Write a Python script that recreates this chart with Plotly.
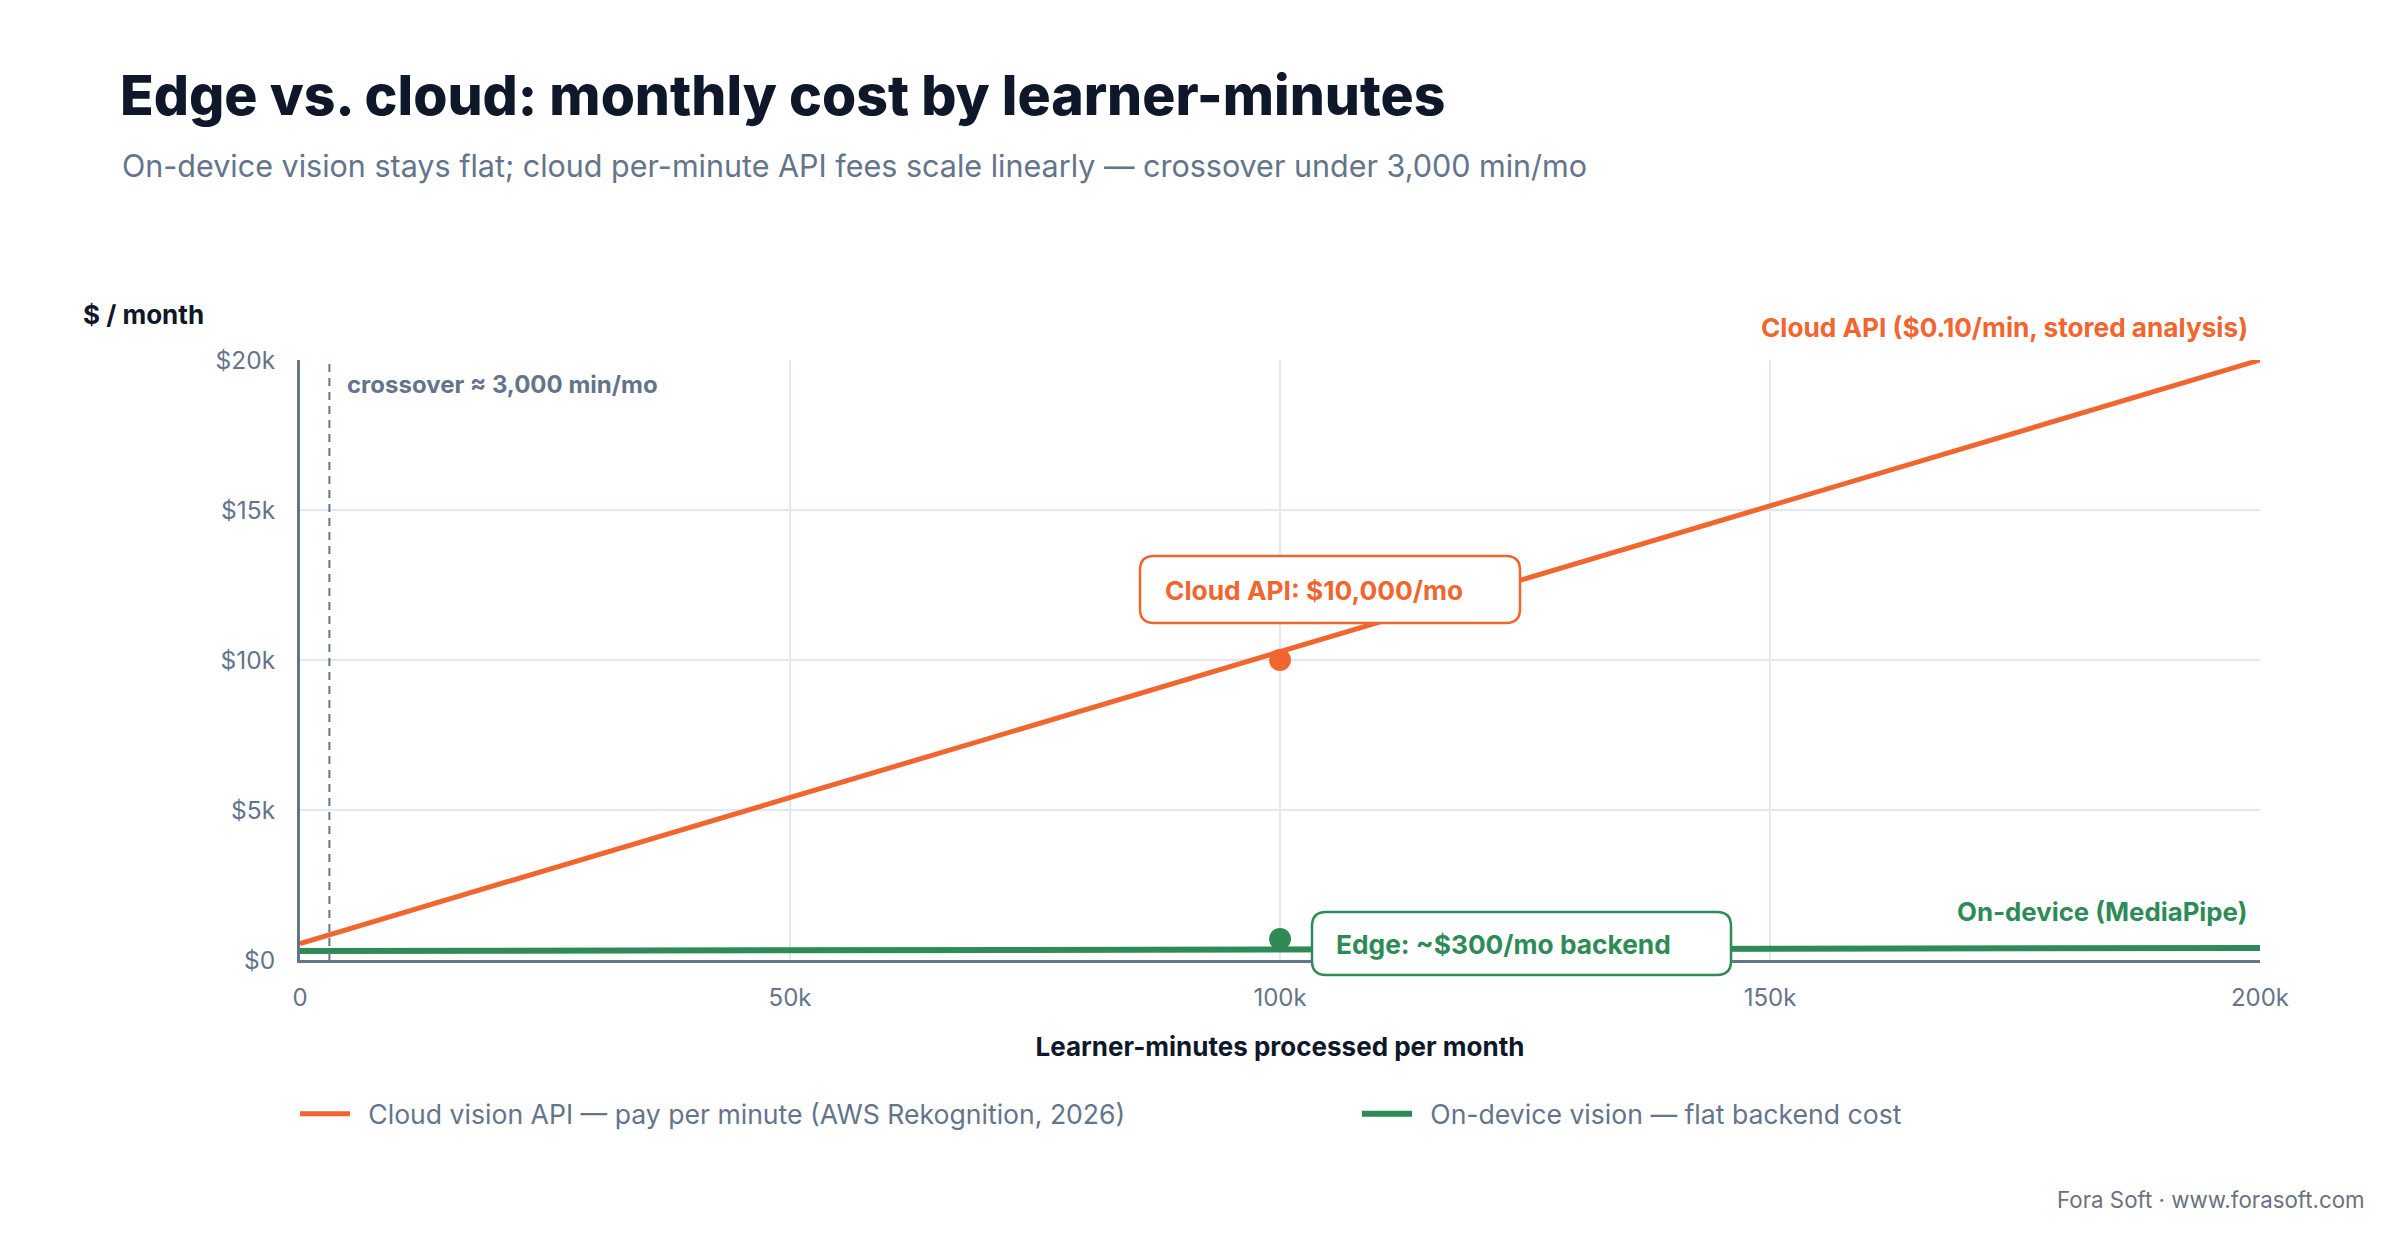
import plotly.graph_objects as go

# ---------------- data ----------------
minutes = [0, 100000, 200000]
cloud_cost = [550, 10280, 20000]
edge_cost = [300, 360, 400]

marker_x = [100000]
cloud_marker = [10000]
edge_marker = [700]

crossover_x = 3000

x_ticks = [0, 50000, 100000, 150000, 200000]
x_tick_labels = ["0", "50k", "100k", "150k", "200k"]
y_ticks = [0, 5000, 10000, 15000, 20000]
y_tick_labels = ["$0", "$5k", "$10k", "$15k", "$20k"]

ORANGE = "#F1652F"
GREEN = "#2E8B57"
SLATE = "#64748B"
DARK = "#0F172A"
GRID = "#E2E8F0"
FONT = "Inter"

# plot area in pixels
L, R, T, B = 300, 2260, 360, 960
W, H = 2400, 1240


def px(x):
    return (x - L) / (R - L)


def py(y):
    return (B - y) / (B - T)


def rounded_box(x0, y0, x1, y1, r=14):
    # pixel coords -> paper path with rounded corners
    X0, X1 = px(x0), px(x1)
    Y0, Y1 = py(y0), py(y1)  # Y0 is top
    rx = r / (R - L)
    ry = r / (B - T)
    return (f"M {X0+rx},{Y0} L {X1-rx},{Y0} Q {X1},{Y0} {X1},{Y0-ry} "
            f"L {X1},{Y1+ry} Q {X1},{Y1} {X1-rx},{Y1} "
            f"L {X0+rx},{Y1} Q {X0},{Y1} {X0},{Y1+ry} "
            f"L {X0},{Y0-ry} Q {X0},{Y0} {X0+rx},{Y0} Z")


fig = go.Figure()

fig.add_trace(go.Scatter(
    x=minutes, y=cloud_cost, mode="lines",
    line=dict(color=ORANGE, width=5),
    name="\u2002Cloud vision API — pay per minute (AWS Rekognition, 2026)",
    hoverinfo="skip",
))
fig.add_trace(go.Scatter(
    x=minutes, y=edge_cost, mode="lines",
    line=dict(color=GREEN, width=6),
    name="\u2002On-device vision — flat backend cost",
    hoverinfo="skip",
))
fig.add_trace(go.Scatter(
    x=marker_x, y=cloud_marker, mode="markers",
    marker=dict(color=ORANGE, size=22), showlegend=False, hoverinfo="skip",
))
fig.add_trace(go.Scatter(
    x=marker_x, y=edge_marker, mode="markers",
    marker=dict(color=GREEN, size=22), showlegend=False, hoverinfo="skip",
))

shapes = [
    dict(type="line", xref="x", yref="paper", x0=crossover_x, x1=crossover_x,
         y0=0, y1=1, line=dict(color=SLATE, width=2, dash="8px,6px"), layer="above"),
    dict(type="path", xref="paper", yref="paper", path=rounded_box(1140, 556, 1520, 623),
         fillcolor="white", line=dict(color=ORANGE, width=2.5), layer="above"),
    dict(type="path", xref="paper", yref="paper", path=rounded_box(1312, 912, 1731, 975),
         fillcolor="white", line=dict(color=GREEN, width=2.5), layer="above"),
]

annotations = [
    dict(text="On-device vision stays flat; cloud per-minute API fees scale linearly — crossover under 3,000 min/mo",
         xref="paper", yref="paper", x=px(120), y=py(165), xanchor="left", yanchor="middle",
         showarrow=False, font=dict(family=FONT, size=30.5, color=SLATE)),
    dict(text="<b>$ / month</b>", xref="paper", yref="paper", x=px(81), y=py(314),
         xanchor="left", yanchor="middle", showarrow=False,
         font=dict(family=FONT, size=26, color=DARK)),
    dict(text="<b>crossover ≈ 3,000 min/mo</b>", xref="paper", yref="paper", x=px(345), y=py(384),
         xanchor="left", yanchor="middle", showarrow=False,
         font=dict(family=FONT, size=24, color=SLATE)),
    dict(text="<b>Cloud API ($0.10/min, stored analysis)</b>", xref="paper", yref="paper",
         x=px(2250), y=py(327), xanchor="right", yanchor="middle", showarrow=False,
         font=dict(family=FONT, size=26.2, color=ORANGE)),
    dict(text="<b>On-device (MediaPipe)</b>", xref="paper", yref="paper",
         x=px(2249), y=py(911), xanchor="right", yanchor="middle", showarrow=False,
         font=dict(family=FONT, size=25.8, color=GREEN)),
    dict(text="<b>Cloud API: $10,000/mo</b>", xref="paper", yref="paper",
         x=px(1163), y=py(590), xanchor="left", yanchor="middle", showarrow=False,
         font=dict(family=FONT, size=26.3, color=ORANGE)),
    dict(text="<b>Edge: ~$300/mo backend</b>", xref="paper", yref="paper",
         x=px(1334), y=py(944), xanchor="left", yanchor="middle", showarrow=False,
         font=dict(family=FONT, size=26.3, color=GREEN)),
    dict(text="Fora Soft · www.forasoft.com", xref="paper", yref="paper",
         x=px(2367), y=py(1199), xanchor="right", yanchor="middle", showarrow=False,
         font=dict(family=FONT, size=22.3, color="#6B7280")),
]

fig.update_layout(
    width=W, height=H,
    margin=dict(l=L, r=W - R, t=T, b=H - B, autoexpand=False),
    paper_bgcolor="white", plot_bgcolor="white",
    font=dict(family=FONT, color=SLATE),
    title=dict(text="Edge vs. cloud: monthly cost by learner-minutes",
               x=120 / W, xanchor="left", xref="container",
               y=1 - 96 / H, yanchor="middle", yref="container",
               font=dict(family=FONT, size=55.3, color=DARK, weight=800)),
    xaxis=dict(range=[0, 200000], tickvals=x_ticks, ticktext=x_tick_labels,
               showgrid=True, gridcolor=GRID, gridwidth=2,
               showline=True, linecolor=SLATE, linewidth=3,
               zeroline=False, ticks="", ticklen=0, ticklabelstandoff=14,
               tickfont=dict(family=FONT, size=24, color=SLATE),
               title=dict(text="<b>Learner-minutes processed per month</b>",
                          font=dict(family=FONT, size=26, color=DARK), standoff=28)),
    yaxis=dict(range=[0, 20000], tickvals=y_ticks, ticktext=y_tick_labels,
               showgrid=True, gridcolor=GRID, gridwidth=2,
               showline=True, linecolor=SLATE, linewidth=3,
               zeroline=False, ticks="", ticklen=0, ticklabelstandoff=17,
               tickfont=dict(family=FONT, size=24.5, color=SLATE)),
    legend=dict(orientation="h", x=px(295), xanchor="left", y=py(1114), yanchor="middle",
                entrywidth=997, entrywidthmode="pixels",
                font=dict(family=FONT, size=26.6, color=SLATE), itemwidth=50),
    shapes=shapes,
    annotations=annotations,
    showlegend=True,
)

fig.write_html("out.html")
